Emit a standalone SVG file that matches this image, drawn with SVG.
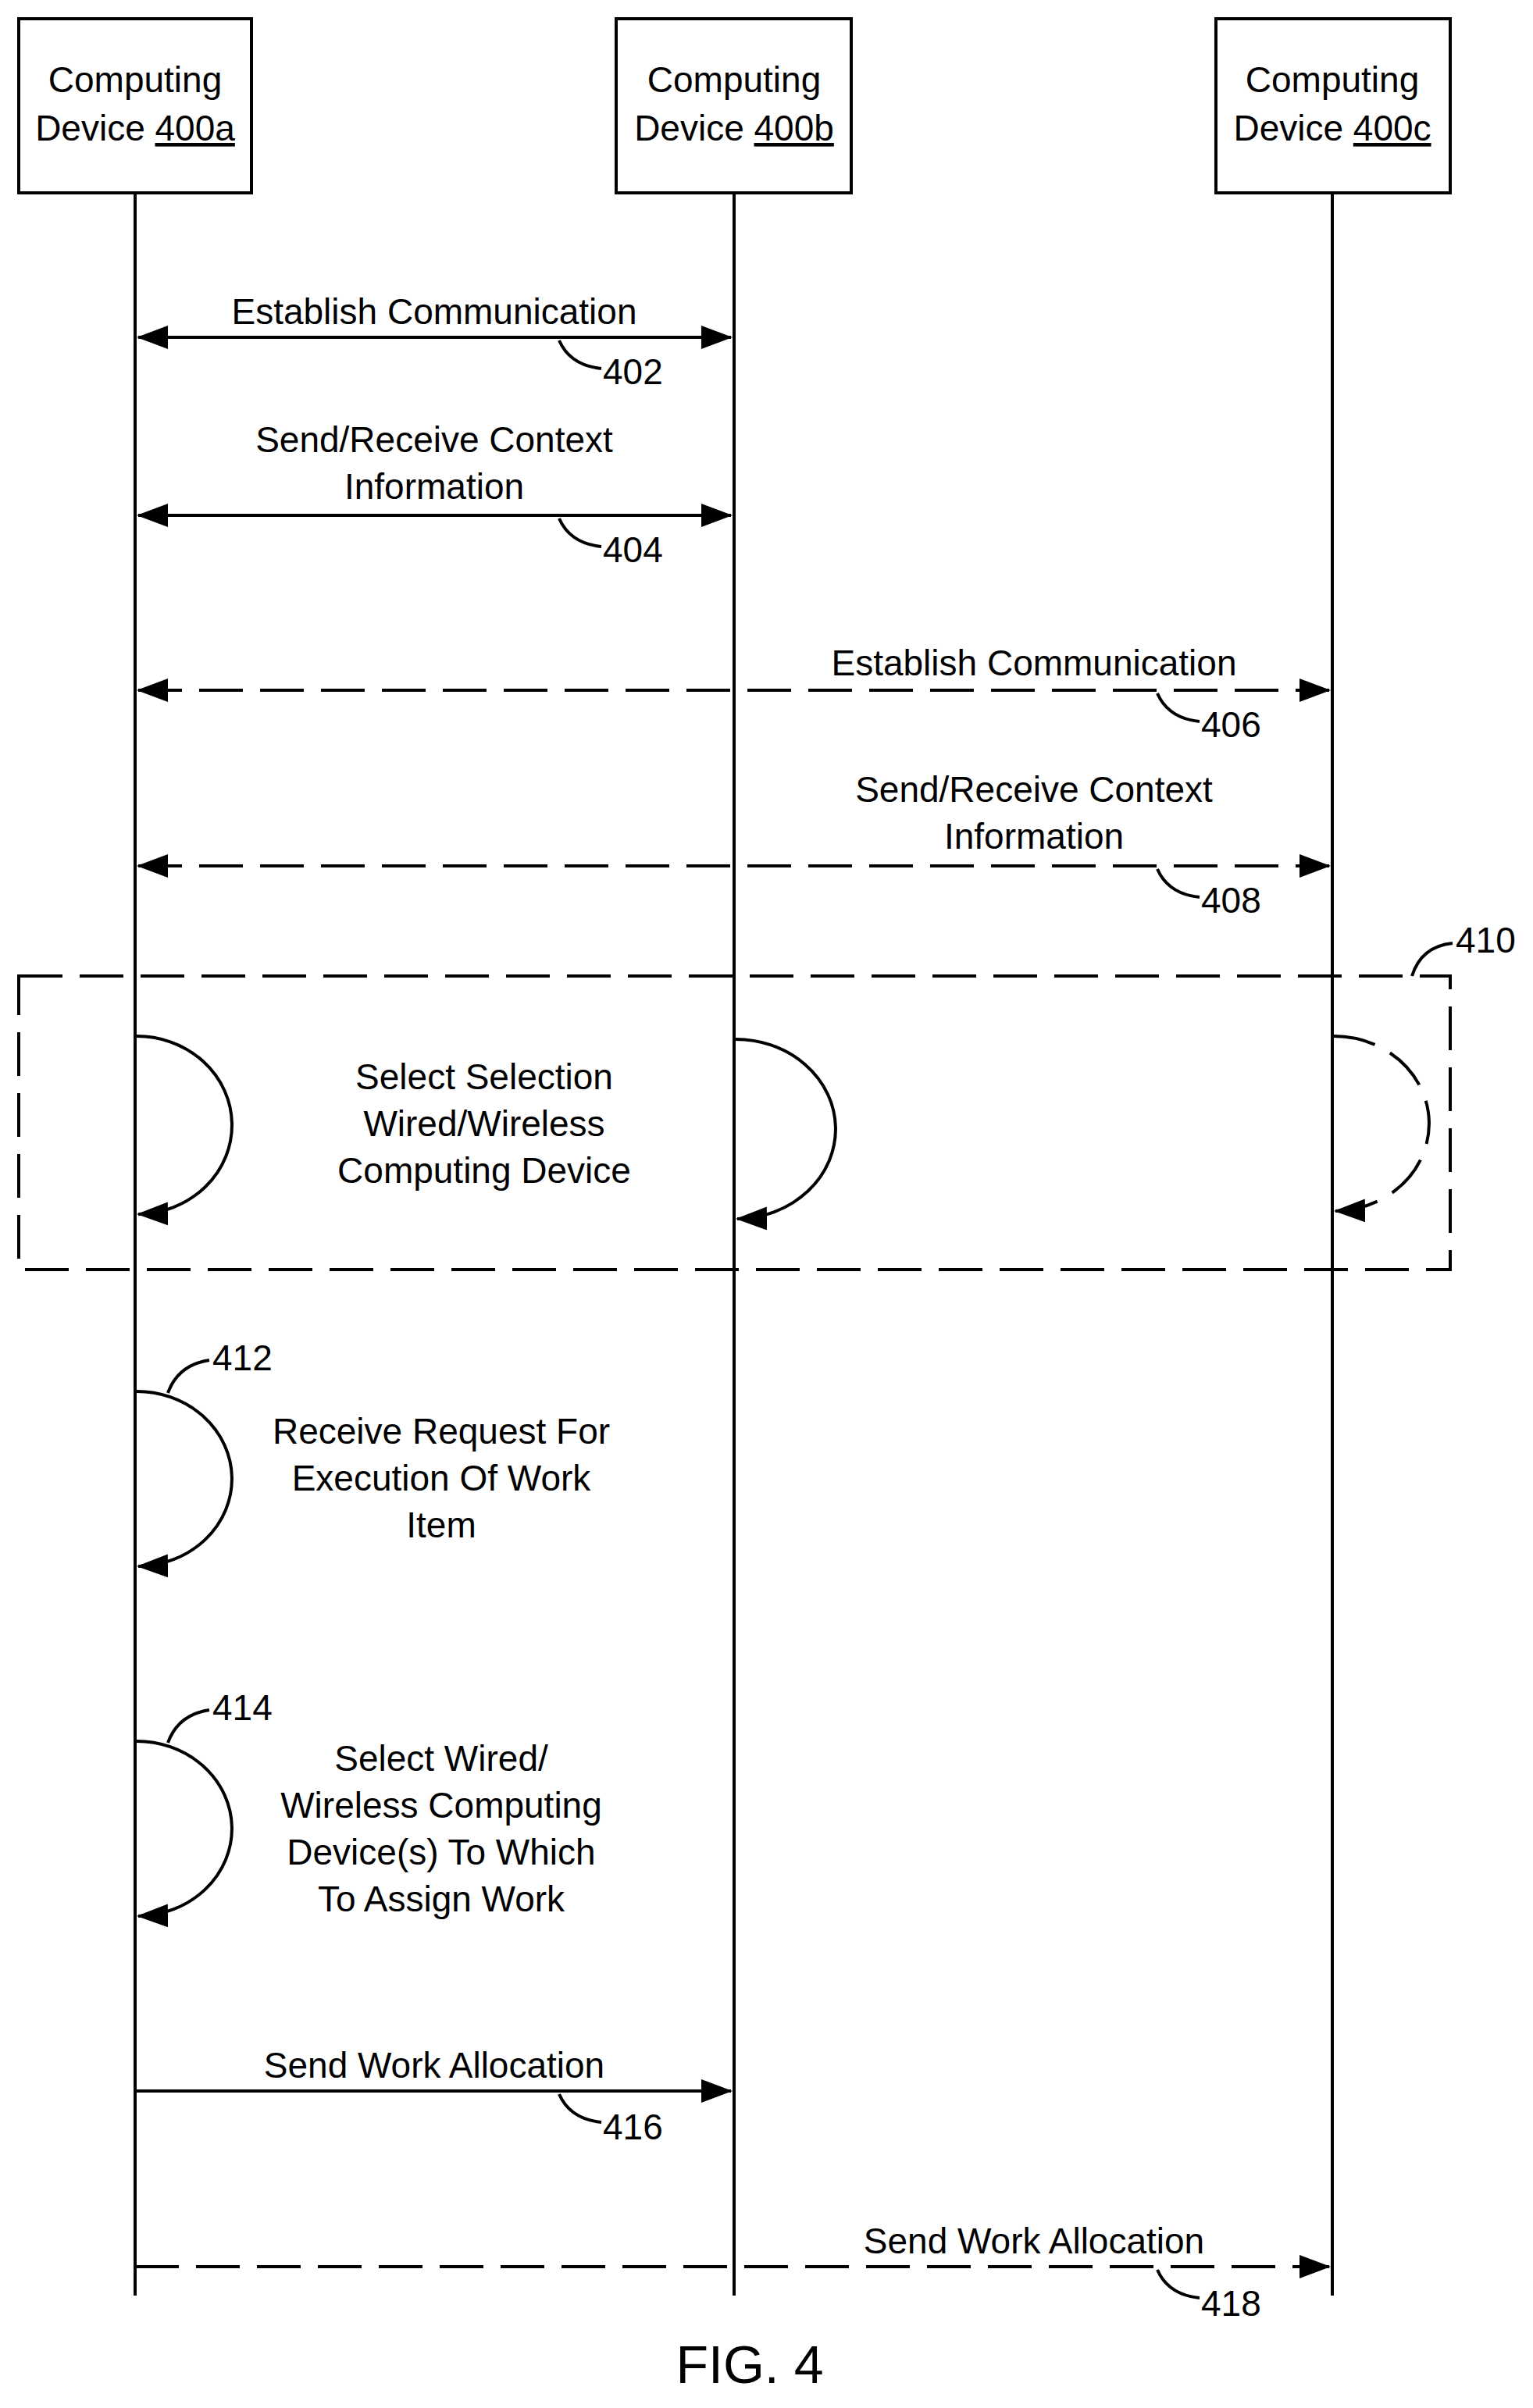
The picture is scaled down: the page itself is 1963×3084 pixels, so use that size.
<svg xmlns="http://www.w3.org/2000/svg" width="1963" height="3084" viewBox="0 0 1963 3084">
<style>
text{font-family:"Liberation Sans",Arial,sans-serif;font-size:46px;fill:#000}
.m{text-anchor:middle}
.l{fill:none;stroke:#000;stroke-width:4}
.d{stroke-dasharray:56 22}
.box{fill:#fff;stroke:#000;stroke-width:4}
</style>
<defs>
<marker id="ah" markerUnits="userSpaceOnUse" markerWidth="40" markerHeight="30" refX="38" refY="15" orient="auto-start-reverse"><path d="M0,0 L40,15 L0,30 Z" fill="#000"/></marker>
</defs>
<g id="lifelines">
<line class="l" x1="173" y1="247" x2="173" y2="2940"/>
<line class="l" x1="940" y1="247" x2="940" y2="2940"/>
<line class="l" x1="1706" y1="247" x2="1706" y2="2940"/>
</g>
<g id="nodeA"><rect class="box" x="24" y="24" width="298" height="223"/><text class="m" x="173" y="118">Computing</text><text class="m" x="173" y="180">Device <tspan text-decoration="underline">400a</tspan></text></g>
<g id="nodeB"><rect class="box" x="789" y="24" width="301" height="223"/><text class="m" x="940" y="118">Computing</text><text class="m" x="940" y="180">Device <tspan text-decoration="underline">400b</tspan></text></g>
<g id="nodeC"><rect class="box" x="1557" y="24" width="300" height="223"/><text class="m" x="1706" y="118">Computing</text><text class="m" x="1706" y="180">Device <tspan text-decoration="underline">400c</tspan></text></g>
<g id="group410"><rect x="24" y="1250" width="1833" height="376" fill="none" stroke="#000" stroke-width="4" class="d"/>
<path class="l" d="M1808,1250 Q1820,1212 1860,1208"/><text x="1864" y="1220">410</text></g>
<g id="connectors">
<line class="l" x1="177" y1="432" x2="936" y2="432" marker-start="url(#ah)" marker-end="url(#ah)"/>
<line class="l" x1="177" y1="660" x2="936" y2="660" marker-start="url(#ah)" marker-end="url(#ah)"/>
<line class="l d" x1="177" y1="884" x2="1702" y2="884" marker-start="url(#ah)" marker-end="url(#ah)"/>
<line class="l d" x1="177" y1="1109" x2="1702" y2="1109" marker-start="url(#ah)" marker-end="url(#ah)"/>
<path class="l" d="M173,1327 A122,114 0 0 1 177,1555" marker-end="url(#ah)"/>
<path class="l" d="M940,1331 A128,115 0 0 1 944,1561" marker-end="url(#ah)"/>
<path class="l d" d="M1706,1327 A122,112 0 0 1 1710,1551" marker-end="url(#ah)"/>
<path class="l" d="M173,1782 A122,112 0 0 1 177,2006" marker-end="url(#ah)"/>
<path class="l" d="M173,2230 A122,112 0 0 1 177,2454" marker-end="url(#ah)"/>
<line class="l" x1="173" y1="2678" x2="936" y2="2678" marker-end="url(#ah)"/>
<line class="l d" x1="173" y1="2903" x2="1702" y2="2903" marker-end="url(#ah)"/>
<path class="l" d="M716,436 Q730,468 770,472"/>
<path class="l" d="M716,664 Q730,696 770,700"/>
<path class="l" d="M1482,888 Q1496,920 1536,924"/>
<path class="l" d="M1482,1113 Q1496,1145 1536,1149"/>
<path class="l" d="M716,2682 Q730,2714 770,2718"/>
<path class="l" d="M1482,2907 Q1496,2939 1536,2943"/>
<path class="l" d="M215,1784 Q228,1748 268,1742"/>
<path class="l" d="M215,2232 Q228,2196 268,2190"/>
</g>
<g id="labels">
<text class="m" x="556" y="415">Establish Communication</text>
<text x="772" y="492">402</text>
<text class="m" x="556" y="579">Send/Receive Context</text>
<text class="m" x="556" y="639">Information</text>
<text x="772" y="720">404</text>
<text class="m" x="1324" y="865">Establish Communication</text>
<text x="1538" y="944">406</text>
<text class="m" x="1324" y="1027">Send/Receive Context</text>
<text class="m" x="1324" y="1087">Information</text>
<text x="1538" y="1169">408</text>
<text class="m" x="620" y="1395">Select Selection</text>
<text class="m" x="620" y="1455">Wired/Wireless</text>
<text class="m" x="620" y="1515">Computing Device</text>
<text x="272" y="1755">412</text>
<text class="m" x="565" y="1849">Receive Request For</text>
<text class="m" x="565" y="1909">Execution Of Work</text>
<text class="m" x="565" y="1969">Item</text>
<text x="272" y="2203">414</text>
<text class="m" x="565" y="2268">Select Wired/</text>
<text class="m" x="565" y="2328">Wireless Computing</text>
<text class="m" x="565" y="2388">Device(s) To Which</text>
<text class="m" x="565" y="2448">To Assign Work</text>
<text class="m" x="556" y="2661">Send Work Allocation</text>
<text x="772" y="2740">416</text>
<text class="m" x="1324" y="2886">Send Work Allocation</text>
<text x="1538" y="2966">418</text>
<text class="m" x="960" y="3052" style="font-size:68px">FIG. 4</text>
</g>
</svg>
